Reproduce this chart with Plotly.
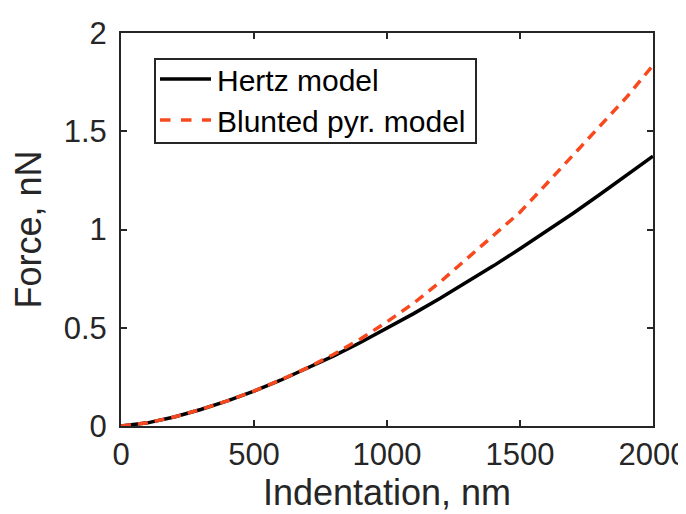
import plotly.graph_objects as go

# Data
indentation_nm = [0, 100, 200, 300, 400, 500, 600, 700, 800, 900, 1000,
                  1100, 1200, 1300, 1400, 1500, 1600, 1700, 1800, 1900, 2000]
hertz_force_nN = [0, 0.016, 0.046, 0.084, 0.128, 0.178, 0.233, 0.293, 0.357, 0.425, 0.497,
                  0.572, 0.650, 0.731, 0.815, 0.902, 0.991, 1.083, 1.178, 1.275, 1.373]
blunted_force_nN = [0, 0.016, 0.046, 0.084, 0.128, 0.178, 0.234, 0.296, 0.365, 0.443, 0.530,
                    0.625, 0.733, 0.850, 0.966, 1.088, 1.233, 1.380, 1.523, 1.672, 1.836]

series_names = ["Hertz model", "Blunted pyr. model"]
x_ticks = [0, 500, 1000, 1500, 2000]
x_tick_labels = ["0", "500", "1000", "1500", "2000"]
y_ticks = [0, 0.5, 1, 1.5, 2]
y_tick_labels = ["0", "0.5", "1", "1.5", "2"]

FONT = "Liberation Sans, Arial, sans-serif"
AX = "#262626"
RED = "#F8481E"

fig = go.Figure()
fig.add_trace(go.Scatter(x=indentation_nm, y=hertz_force_nN, mode="lines",
                         name=series_names[0], line=dict(color="black", width=3.5)))
fig.add_trace(go.Scatter(x=indentation_nm, y=blunted_force_nN, mode="lines",
                         name=series_names[1],
                         line=dict(color=RED, width=3.5, dash="10px,7px")))

axis_common = dict(showline=True, linecolor=AX, linewidth=2, mirror="ticks",
                   ticks="inside", ticklen=6, tickwidth=2, tickcolor=AX,
                   showgrid=False, zeroline=False,
                   tickfont=dict(family=FONT, size=31, color=AX))

fig.update_xaxes(range=[0, 2000], tickvals=x_ticks, ticktext=x_tick_labels,
                 title=dict(text="Indentation, nm", font=dict(family=FONT, size=36, color=AX),
                            standoff=6),
                 **axis_common)
fig.update_yaxes(range=[0, 2], tickvals=y_ticks, ticktext=y_tick_labels,
                 ticklabelstandoff=6,
                 title=dict(text="Force, nN", font=dict(family=FONT, size=36, color=AX),
                            standoff=12),
                 **axis_common)

# Legend drawn as a boxed key in paper coordinates (MATLAB style)
L, R, T, B = 113, 41, 25, 96
W, H = 686 - L - R, 514 - T - B
def px(x):
    return (x - L) / W
def py(y):
    return (514 - B - y) / H

shapes = [dict(type="rect", xref="paper", yref="paper",
               x0=px(147), x1=px(468), y0=py(135), y1=py(51),
               line=dict(color=AX, width=2), fillcolor="white", layer="above")]
annotations = []
row_y = [71, 112]
styles = [dict(color="black", width=3.5), dict(color=RED, width=3.5, dash="dash")]
for name, ry, st in zip(series_names, row_y, styles):
    shapes.append(dict(type="line", xref="paper", yref="paper",
                       x0=px(152), x1=px(203), y0=py(ry), y1=py(ry),
                       line=st, layer="above"))
    annotations.append(dict(text=name, xref="paper", yref="paper",
                            x=px(207), y=py(ry + 1), xanchor="left", yanchor="middle",
                            showarrow=False,
                            font=dict(family=FONT, size=30, color="black")))

fig.update_layout(
    width=686, height=514,
    margin=dict(l=L, r=R, t=T, b=B, autoexpand=False),
    plot_bgcolor="white", paper_bgcolor="white",
    showlegend=False,
    shapes=shapes, annotations=annotations,
)

fig.write_html("out.html")
